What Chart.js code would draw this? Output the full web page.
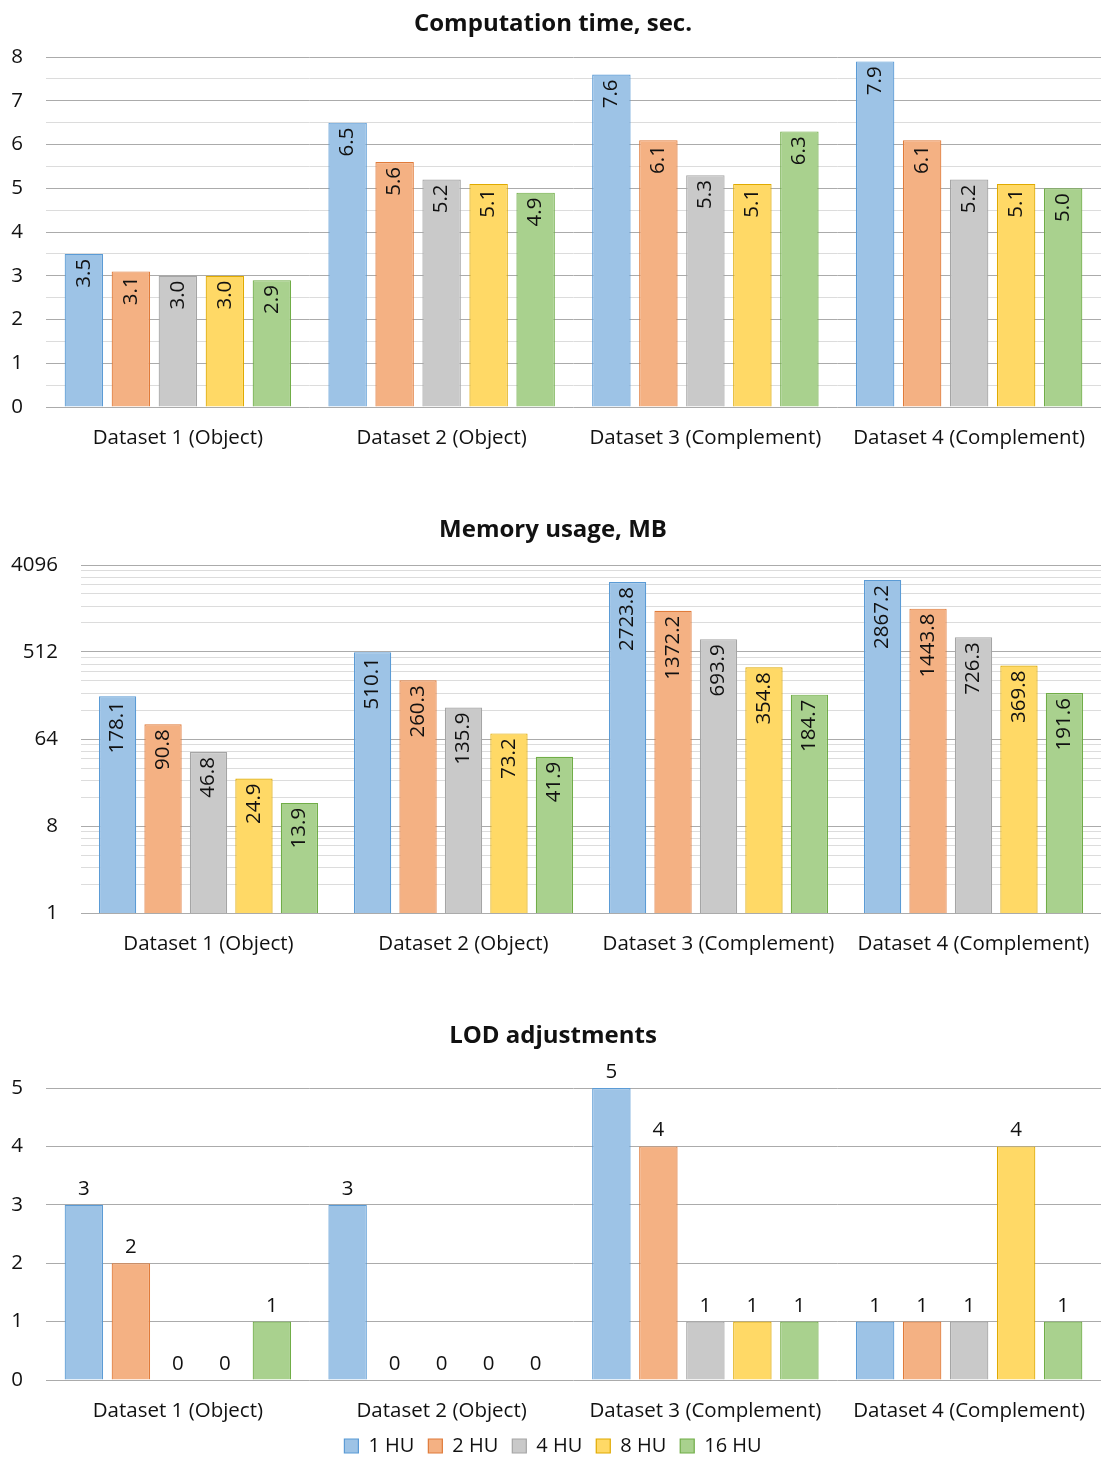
<!DOCTYPE html>
<html>
<head>
<meta charset="utf-8">
<script src="https://cdn.jsdelivr.net/npm/chart.js@4.4.1/dist/chart.umd.min.js"></script>
<style>
  html, body { margin: 0; padding: 0; background: #fff; overflow: hidden; }
  .panel { position: absolute; left: 0; }
</style>
</head>
<body>
<canvas id="timeChart" class="panel" width="1101" height="470" style="top:0px"></canvas>
<canvas id="memChart" class="panel" width="1101" height="476" style="top:500px"></canvas>
<canvas id="lodChart" class="panel" width="1101" height="466" style="top:1000px"></canvas>
<script>
// ---- data ----
const categories = ['Dataset 1 (Object)', 'Dataset 2 (Object)', 'Dataset 3 (Complement)', 'Dataset 4 (Complement)'];
const seriesNames = ['1 HU', '2 HU', '4 HU', '8 HU', '16 HU'];

// computation time, seconds (one row per series, one column per dataset)
const timeValues = [
  [3.5, 6.5, 7.6, 7.9],
  [3.1, 5.6, 6.1, 6.1],
  [3.0, 5.2, 5.3, 5.2],
  [3.0, 5.1, 5.1, 5.1],
  [2.9, 4.9, 6.3, 5.0]
];
// memory usage, MB
const memoryValues = [
  [178.1, 510.1, 2723.8, 2867.2],
  [90.8, 260.3, 1372.2, 1443.8],
  [46.8, 135.9, 693.9, 726.3],
  [24.9, 73.2, 354.8, 369.8],
  [13.9, 41.9, 184.7, 191.6]
];
// number of LOD adjustments
const lodValues = [
  [3, 3, 5, 1],
  [2, 0, 4, 1],
  [0, 0, 1, 1],
  [0, 0, 1, 4],
  [1, 0, 1, 1]
];
const timeTicks = [0, 1, 2, 3, 4, 5, 6, 7, 8];
const memoryTicks = [1, 8, 64, 512, 4096];
const lodTicks = [0, 1, 2, 3, 4, 5];

// ---- styling ----
const fillColors = ['#9DC3E6', '#F4B183', '#C9C9C9', '#FFD966', '#A9D18E'];
const edgeColors = ['#5B9BD5', '#E07B3A', '#A5A5A5', '#E0AA00', '#70AD47'];
const FONT = "'Open Sans', 'Noto Sans', sans-serif";
const TEXT_SIZE = 20.5;
const MAJOR_GRID = '#ABABAB';
const MINOR_GRID = '#DCDCDC';
Chart.defaults.font.family = FONT;
Chart.defaults.color = '#111';

function makeDatasets(rows) {
  return rows.map((row, i) => ({
    label: seriesNames[i],
    data: row,
    backgroundColor: fillColors[i],
    borderColor: edgeColors[i],
    borderWidth: 1.2,
    borderSkipped: 'start'
  }));
}

// value labels drawn onto each bar
const valueLabels = {
  id: 'valueLabels',
  afterDatasetsDraw(chart, args, opts) {
    const ctx = chart.ctx;
    ctx.save();
    ctx.font = opts.size + 'px ' + FONT;
    ctx.fillStyle = '#111';
    chart.data.datasets.forEach((ds, i) => {
      const meta = chart.getDatasetMeta(i);
      meta.data.forEach((bar, j) => {
        const text = opts.digits > 0 ? ds.data[j].toFixed(opts.digits) : String(ds.data[j]);
        if (opts.vertical) {
          ctx.save();
          ctx.translate(bar.x, bar.y + opts.offset);
          ctx.rotate(-Math.PI / 2);
          ctx.textAlign = 'right';
          ctx.textBaseline = 'middle';
          ctx.fillText(text, 0, 0);
          ctx.restore();
        } else {
          ctx.textAlign = 'center';
          ctx.textBaseline = 'alphabetic';
          ctx.fillText(text, bar.x, bar.y - opts.offset);
        }
      });
    });
    ctx.restore();
  }
};

// category axis: labels sit ~31px under the axis line (via line height, no side padding)
function xAxis(height) {
  return {
    grid: { display: false, drawTicks: false },
    border: { display: false },
    ticks: { font: { size: TEXT_SIZE, lineHeight: '62px' }, padding: 0, maxRotation: 0, autoSkip: false },
    afterFit(scale) { scale.height = height; }
  };
}

function titleOpts(text, top, bottom) {
  return {
    display: true, text: text, color: '#111',
    font: { size: 24, weight: 'bold', lineHeight: 1.2 },
    padding: { top: top, bottom: bottom }
  };
}

// plot area runs slightly past the right canvas edge
const PLOT_PADDING = { left: 0, top: 0, bottom: 0, right: -5 };

// ---- computation time ----
new Chart(document.getElementById('timeChart'), {
  type: 'bar',
  data: { labels: categories, datasets: makeDatasets(timeValues) },
  plugins: [valueLabels],
  options: {
    responsive: false, animation: false,
    layout: { padding: PLOT_PADDING },
    datasets: { bar: { categoryPercentage: 0.891, barPercentage: 0.818 } },
    scales: {
      x: xAxis(63),
      y: {
        min: timeTicks[0], max: timeTicks[timeTicks.length - 1],
        border: { display: false },
        grid: {
          drawTicks: false,
          color: c => Number.isInteger(c.tick.value) ? MAJOR_GRID : MINOR_GRID
        },
        ticks: {
          stepSize: 0.5, autoSkip: false, padding: 23, font: { size: TEXT_SIZE },
          callback: v => timeTicks.includes(v) ? String(v) : ''
        },
        afterFit(scale) { scale.width = 46; }
      }
    },
    plugins: {
      legend: { display: false },
      tooltip: { enabled: false },
      title: titleOpts('Computation time, sec.', 9.6, 18.6),
      valueLabels: { vertical: true, offset: 5, size: TEXT_SIZE, digits: 1 }
    }
  }
});

// ---- memory usage (log base 8) ----
new Chart(document.getElementById('memChart'), {
  type: 'bar',
  data: { labels: categories, datasets: makeDatasets(memoryValues) },
  plugins: [valueLabels],
  options: {
    responsive: false, animation: false,
    layout: { padding: PLOT_PADDING },
    datasets: { bar: { categoryPercentage: 0.8915, barPercentage: 0.82 } },
    scales: {
      x: xAxis(63),
      y: {
        type: 'logarithmic',
        min: memoryTicks[0], max: memoryTicks[memoryTicks.length - 1],
        border: { display: false },
        afterBuildTicks(scale) {
          const t = [];
          for (let p = 0; p < memoryTicks.length - 1; p++) {
            for (let k = 1; k < 8; k++) t.push({ value: memoryTicks[p] * k });
          }
          t.push({ value: memoryTicks[memoryTicks.length - 1] });
          scale.ticks = t;
        },
        grid: {
          drawTicks: false,
          color: c => memoryTicks.includes(c.tick.value) ? MAJOR_GRID : MINOR_GRID
        },
        ticks: {
          autoSkip: false, padding: 23, font: { size: TEXT_SIZE },
          callback: v => memoryTicks.includes(v) ? String(v) : ''
        },
        afterFit(scale) { scale.width = 81; }
      }
    },
    plugins: {
      legend: { display: false },
      tooltip: { enabled: false },
      title: titleOpts('Memory usage, MB', 15.6, 20.6),
      valueLabels: { vertical: true, offset: 5, size: TEXT_SIZE, digits: 1 }
    }
  }
});

// ---- LOD adjustments ----
new Chart(document.getElementById('lodChart'), {
  type: 'bar',
  data: { labels: categories, datasets: makeDatasets(lodValues) },
  plugins: [valueLabels],
  options: {
    responsive: false, animation: false,
    layout: { padding: PLOT_PADDING },
    datasets: { bar: { categoryPercentage: 0.891, barPercentage: 0.818 } },
    scales: {
      x: xAxis(42),
      y: {
        min: lodTicks[0], max: lodTicks[lodTicks.length - 1],
        border: { display: false },
        grid: { drawTicks: false, color: MAJOR_GRID },
        ticks: { stepSize: 1, autoSkip: false, padding: 23, font: { size: TEXT_SIZE } },
        afterFit(scale) { scale.width = 46; }
      }
    },
    plugins: {
      legend: {
        display: true, position: 'bottom',
        labels: { boxWidth: 14, boxHeight: 14, padding: 14, font: { size: 20 }, color: '#111' }
      },
      tooltip: { enabled: false },
      title: titleOpts('LOD adjustments', 21.6, 37.6),
      valueLabels: { vertical: false, offset: 10, size: TEXT_SIZE, digits: 0 }
    }
  }
});
</script>
</body>
</html>
